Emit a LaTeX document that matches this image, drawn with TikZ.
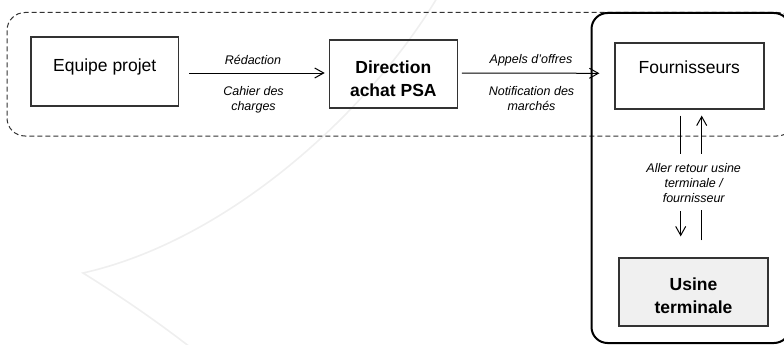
\documentclass[tikz,border=0pt]{standalone}
\usepackage{fontspec}
\setmainfont{Liberation Sans}
\usetikzlibrary{arrows.meta}
\definecolor{wm}{HTML}{EFEFEF}
\definecolor{boxline}{HTML}{333333}
\definecolor{usinefill}{HTML}{F0F0F0}
\tikzset{
  boxnode/.style={draw=boxline, line width=1.2pt, rectangle, inner sep=0pt},
  boxtext/.style={anchor=base, inner sep=0pt, font=\fontsize{17.5}{23}\selectfont, align=center},
  boldtext/.style={anchor=base, inner sep=0pt, font=\fontsize{17.5}{23}\selectfont\bfseries, align=center},
  lbltext/.style={anchor=base, inner sep=0pt, font=\fontsize{12.5}{15}\selectfont\itshape, align=center},
  arr/.style={-{Straight Barb[length=9pt,width=10pt]}, line width=1pt, draw=black},
  plainline/.style={line width=1pt, draw=black},
}
\begin{document}
\begin{tikzpicture}[x=1pt,y=-1pt]
\useasboundingbox (0,0) rectangle (784,345);
% faint watermark
\draw[wm, line width=1.6pt] (437,-2) .. controls (370,110) and (230,240) .. (83,273)
  .. controls (120,296) and (155,320) .. (190,347);
% dashed group
\draw[boxline, line width=1pt, dash pattern=on 5pt off 3pt, rounded corners=18pt]
  (7,12.5) rectangle (795,136);
% solid group
\draw[black, line width=2pt, rounded corners=16pt] (591.5,13) rectangle (790,343);
% boxes
\node[boxnode, minimum width=147.5pt, minimum height=69pt] (ep) at (104.75,71.5) {};
\node[boxtext] (ept) at (104.75,71) {Equipe projet};
\node[boxnode, minimum width=128pt, minimum height=68pt] (dir) at (393.3,74) {};
\node[boldtext] (dirt) at (393.3,96) {Direction\\achat PSA};
\node[boxnode, minimum width=149pt, minimum height=66pt] (fo) at (689.5,76) {};
\node[boxtext] (fot) at (689.3,73.5) {Fournisseurs};
\node[boxnode, fill=usinefill, minimum width=149pt, minimum height=68pt] (us) at (693.5,292) {};
\node[boldtext] (ust) at (693.5,313) {Usine\\terminale};
% labels
\node[lbltext] (l1a) at (253,64) {Rédaction};
\node[lbltext] (l1b) at (253.5,110.5) {Cahier des\\charges};
\node[lbltext] (l2a) at (531,63.5) {Appels d’offres};
\node[lbltext] (l2b) at (531.5,110.5) {Notification des\\marchés};
\node[lbltext] (l3) at (693.7,202) {Aller retour usine\\terminale /\\fournisseur};
% connectors
\draw[arr] ([shift={(10,1.5)}]ep.east) -- ([shift={(-4,-1)}]dir.west);
\draw[arr] ([shift={(4,-1)}]dir.east) -- ([shift={(-15,-2.7)}]fo.west);
\draw[plainline] ([shift={(-8.8,6)}]fo.south) -- ([shift={(-8.8,44)}]fo.south);
\draw[arr] ([shift={(12.2,44)}]fo.south) -- ([shift={(12.2,6)}]fo.south);
\draw[arr] ([shift={(-12.8,-46)}]us.north) -- ([shift={(-12.8,-21)}]us.north);
\draw[plainline] ([shift={(8.2,-17)}]us.north) -- ([shift={(8.2,-47)}]us.north);
\end{tikzpicture}
\end{document}
